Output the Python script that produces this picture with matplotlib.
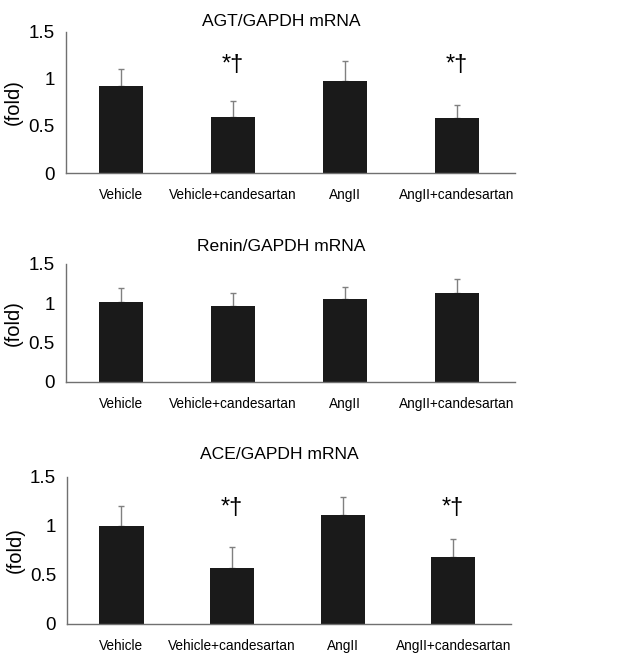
import matplotlib.pyplot as plt

plt.rcParams['font.family'] = ['Liberation Sans', 'DejaVu Sans']

groups = ['Vehicle', 'Vehicle+candesartan', 'AngII', 'AngII+candesartan']
titles = ['AGT/GAPDH mRNA', 'Renin/GAPDH mRNA', 'ACE/GAPDH mRNA']

agt_mean = [0.92, 0.59, 0.98, 0.58]
agt_err = [0.19, 0.18, 0.21, 0.14]
renin_mean = [1.02, 0.97, 1.05, 1.13]
renin_err = [0.17, 0.16, 0.16, 0.18]
ace_mean = [1.00, 0.57, 1.11, 0.68]
ace_err = [0.20, 0.21, 0.18, 0.18]

# significance marks (*: vs vehicle, †: vs AngII)
agt_sig = ['', '*†', '', '*†']
renin_sig = ['', '', '', '']
ace_sig = ['', '*†', '', '*†']

means = [agt_mean, renin_mean, ace_mean]
errs = [agt_err, renin_err, ace_err]
sigs = [agt_sig, renin_sig, ace_sig]

fig = plt.figure(figsize=(6.29, 6.63), dpi=100)
# axes boxes in figure fraction: left, bottom, width, height
boxes = [[0.105, 0.739, 0.714, 0.213],
         [0.105, 0.424, 0.714, 0.178],
         [0.107, 0.059, 0.705, 0.222]]
title_pads = [4, 9, 13]
sig_y = [1.15, 0, 1.18]

x = list(range(len(groups)))
for i in range(3):
    ax = fig.add_axes(boxes[i])
    ax.bar(x, means[i], width=0.4, color='#1a1a1a', zorder=2)
    ax.errorbar(x, means[i], yerr=[[0] * 4, errs[i]], fmt='none',
                ecolor='#808080', elinewidth=1, capsize=2, capthick=1, zorder=1)
    for j, s in enumerate(sigs[i]):
        if s:
            ax.text(x[j], sig_y[i], s, ha='center', va='center', fontsize=17)
    ax.set_xlim(-0.49, 3.52)
    ax.set_ylim(0, 1.5)
    ax.set_yticks([0, 0.5, 1, 1.5])
    ax.set_yticklabels(['0', '0.5', '1', '1.5'], fontsize=13.5)
    ax.set_xticks(x)
    ax.set_xticklabels(groups, fontsize=9.8)
    ax.tick_params(axis='y', length=0, pad=8)
    ax.tick_params(axis='x', length=0, pad=11)
    ax.set_ylabel('(fold)', fontsize=14.5)
    ax.yaxis.set_label_coords(-0.097, 0.5)
    ax.set_title(titles[i], fontsize=12.6, x=0.479, pad=title_pads[i])
    for side in ['top', 'right']:
        ax.spines[side].set_visible(False)
    for side in ['left', 'bottom']:
        ax.spines[side].set_color('#707070')
        ax.spines[side].set_linewidth(1)

fig.savefig('out.png', dpi=100)
